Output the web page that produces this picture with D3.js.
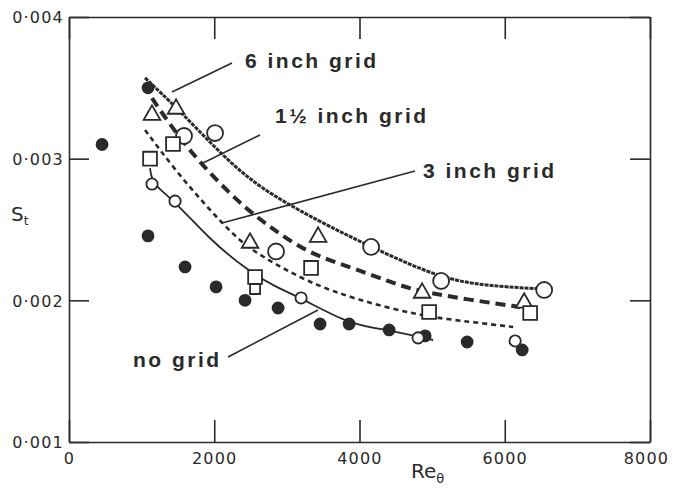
<!DOCTYPE html>
<html>
<head>
<meta charset="utf-8">
<script src="https://cdn.jsdelivr.net/npm/d3@7"></script>
<style>
  body { margin: 0; background: #fff; }
  svg text { fill: #2a2a2a; }
</style>
</head>
<body>
<div id="viz"></div>
<script>
// Valores (Re_theta, St)
const xTicks = [0, 2000, 4000, 6000, 8000];
const yTicks = [0.001, 0.002, 0.003, 0.004];

const filledCircles = [
  [455, 0.00310], [1088, 0.00350], [1088, 0.002455], [1598, 0.002236],
  [2025, 0.002095], [2424, 0.00200], [2879, 0.001946], [3457, 0.001833],
  [3857, 0.001833], [4408, 0.001791], [4904, 0.001749], [5482, 0.001706],
  [6240, 0.00165]
];
const smallCircles = [
  [1143, 0.002821], [1460, 0.00270], [3196, 0.002017], [4807, 0.001735], [6143, 0.001713]
];
const bigCircles = [
  [1584, 0.00316], [2011, 0.003181], [2851, 0.002345], [4160, 0.002377],
  [5124, 0.002137], [6543, 0.002073]
];
const triangles = [
  [1143, 0.003308], [1474, 0.003351], [2493, 0.002405], [3430, 0.002447],
  [4862, 0.002052], [6267, 0.001982]
];
const squares = [
  [1116, 0.00300], [1432, 0.003104], [2562, 0.002165], [3333, 0.002229],
  [4959, 0.001918], [6350, 0.001911]
];
const smallSquares = [[2562, 0.00208]];

const curve6in = [
  [1047, 0.00357], [1488, 0.003358], [2039, 0.003061], [2590, 0.00280],
  [3457, 0.002553], [4160, 0.002377], [5124, 0.002151], [5799, 0.00210], [6543, 0.00208]
];
const curve15in = [
  [1143, 0.003428], [1364, 0.003259], [1763, 0.00299], [2328, 0.002694],
  [2727, 0.002532], [3278, 0.002335], [3870, 0.002236], [4421, 0.00213],
  [4793, 0.002066], [5523, 0.002003], [6212, 0.001953]
];
const curve3in = [
  [1047, 0.003203], [1460, 0.00292], [1901, 0.002659], [2355, 0.002412],
  [2672, 0.002306], [3278, 0.00213], [3967, 0.002003], [4835, 0.00189],
  [5523, 0.001848], [6116, 0.001812]
];
const curveNoGrid = [
  [1116, 0.002934], [1143, 0.002821], [1460, 0.00270], [1942, 0.002426],
  [2452, 0.002214], [2837, 0.002095], [3196, 0.002017], [3870, 0.001826],
  [4421, 0.001791], [5014, 0.00172]
];

const W = 674, H = 501;
const svg = d3.select('#viz').append('svg').attr('width', W).attr('height', H);

const x = d3.scaleLinear().domain([0, 8000]).range([69, 650]);
const y = d3.scaleLinear().domain([0.001, 0.004]).range([442, 17]);
const ink = '#2a2a2a';
const fmtY = d => d.toFixed(3).replace('.', '·');

// ejes con marcas hacia dentro
const gB = svg.append('g').attr('transform', 'translate(0,442)')
  .call(d3.axisBottom(x).tickValues(xTicks).tickFormat(d3.format('d'))
    .tickSizeInner(-22).tickSizeOuter(0).tickPadding(11));
const gL = svg.append('g').attr('transform', 'translate(69,0)')
  .call(d3.axisLeft(y).tickValues(yTicks).tickFormat(fmtY).tickSizeInner(-20).tickSizeOuter(0).tickPadding(5));
const gT = svg.append('g').attr('transform', 'translate(0,17)')
  .call(d3.axisTop(x).tickValues(xTicks).tickFormat('').tickSizeInner(-22).tickSizeOuter(0));
const gR = svg.append('g').attr('transform', 'translate(650,0)')
  .call(d3.axisRight(y).tickValues(yTicks).tickFormat('').tickSizeInner(-20).tickSizeOuter(0));

[gB, gL, gT, gR].forEach(g => {
  g.selectAll('path, line').attr('stroke', ink).attr('stroke-width', 1.6);
  g.selectAll('text').attr('font-family', 'DejaVu Sans').attr('font-size', 16)
    .attr('letter-spacing', '1.2px').attr('fill', '#3a3a3a');
});
gL.selectAll('text').attr('dy', '0.36em');
gB.selectAll('text').filter(d => d === 8000).attr('dx', -4);

// curvas
const line = d3.line().x(d => x(d[0])).y(d => y(d[1])).curve(d3.curveBasis);
const curves = [
  {data: curve6in, w: 3, dash: '4,1'},
  {data: curve15in, w: 4, dash: '10,6'},
  {data: curve3in, w: 2.6, dash: '5,4'},
  {data: curveNoGrid, w: 1.8, dash: null}
];
curves.forEach(c => {
  svg.append('path').attr('d', line(c.data)).attr('fill', 'none')
    .attr('stroke', ink).attr('stroke-width', c.w)
    .attr('stroke-dasharray', c.dash);
});

// marcadores
const mk = (data, type, size, filled) => {
  svg.append('g').selectAll('path').data(data).join('path')
    .attr('transform', d => `translate(${x(d[0])},${y(d[1])})`)
    .attr('d', d3.symbol().type(type).size(size))
    .attr('fill', filled ? ink : '#fff')
    .attr('stroke', ink).attr('stroke-width', 1.8);
};
mk(filledCircles, d3.symbolCircle, 95, true);
mk(smallCircles, d3.symbolCircle, 100, false);
mk(bigCircles, d3.symbolCircle, 200, false);
mk(triangles, d3.symbolTriangle, 120, false);
mk(squares, d3.symbolSquare, 190, false);
mk(smallSquares, d3.symbolSquare, 100, false);

// etiquetas con líneas guía
const labels = [
  {t: '6 inch grid', tx: 245, ty: 68, l: [[232, 63], [172, 92]]},
  {t: '1½ inch grid', tx: 275, ty: 123, l: [[260, 135], [203, 163]]},
  {t: '3 inch grid', tx: 423, ty: 178, l: [[415, 171], [222, 223]]},
  {t: 'no grid', tx: 133, ty: 367, l: [[228, 357], [318, 310]]}
];
labels.forEach(d => {
  svg.append('line').attr('x1', d.l[0][0]).attr('y1', d.l[0][1])
    .attr('x2', d.l[1][0]).attr('y2', d.l[1][1])
    .attr('stroke', ink).attr('stroke-width', 1.6);
  svg.append('text').attr('x', d.tx).attr('y', d.ty).text(d.t)
    .attr('font-family', 'Liberation Sans').attr('font-weight', 'bold')
    .attr('font-size', 21).attr('letter-spacing', '2.5px');
});

// títulos de ejes
const st = svg.append('text').attr('x', 11).attr('y', 221)
  .attr('font-family', 'DejaVu Sans').attr('font-size', 20).attr('fill', '#3a3a3a');
st.append('tspan').text('S');
st.append('tspan').text('t').attr('font-size', 12).attr('dy', 4);

const re = svg.append('text').attr('x', 411).attr('y', 478)
  .attr('font-family', 'DejaVu Sans').attr('font-size', 20).attr('fill', '#3a3a3a');
re.append('tspan').text('Re');
re.append('tspan').text('θ').attr('font-size', 13).attr('dy', 5);
</script>
</body>
</html>
